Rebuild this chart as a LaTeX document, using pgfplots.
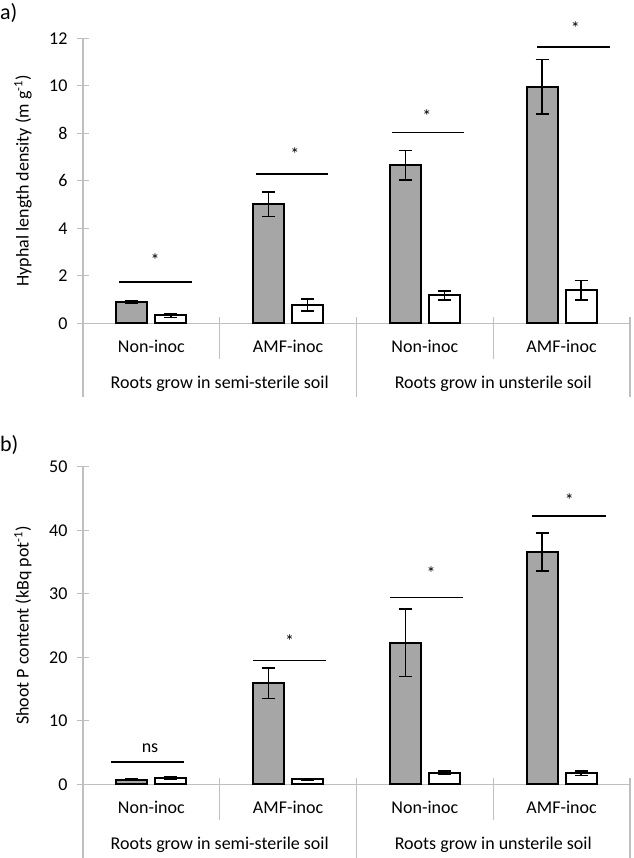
\documentclass[border=0pt]{standalone}
\usepackage{fontspec}
\setmainfont{Carlito}
\usepackage{pgfplots}
\usepackage{pgfplotstable}
\pgfplotsset{compat=1.18}

\definecolor{barg}{HTML}{A6A6A6}
\definecolor{axg}{HTML}{BFBFBF}

\pgfplotstableread{
x y e
0 0.90 0.06
1 5.02 0.52
2 6.66 0.62
3 9.96 1.14
}\hldgray
\pgfplotstableread{
x y e
0 0.33 0.08
1 0.77 0.26
2 1.18 0.19
3 1.39 0.42
}\hldwhite
\pgfplotstableread{
x y e
0 0.70 0.10
1 15.9 2.37
2 22.3 5.30
3 36.6 3.00
}\spgray
\pgfplotstableread{
x y e
0 1.00 0.20
1 0.80 0.10
2 1.83 0.30
3 1.73 0.35
}\spwhite

\tikzset{
  sig/.style={black, line width=1.8pt},
  sep/.style={axg, line width=1.3pt},
}
\pgfplotsset{
  myax/.style={
    scale only axis, width=547pt,
    xmin=-0.5, xmax=3.5, ymin=0,
    axis x line=bottom, axis y line=left,
    axis line style={-, draw=axg, line width=1.3pt},
    ytick style={draw=axg, line width=1.3pt},
    major tick length=12pt, tick align=center,
    xtick={0,1,2,3},
    xticklabels={Non-inoc,AMF-inoc,Non-inoc,AMF-inoc},
    xtick style={draw=none},
    xticklabel style={anchor=center, yshift=-11pt},
    yticklabel style={anchor=east, xshift=-6pt},
    every axis y label/.style={at={([xshift=-60pt]axis description cs:0,0.5)}, rotate=90, anchor=center},
    ybar=8pt, bar width=31pt,
    clip=false,
    font=\fontsize{18}{21}\selectfont,
    /pgf/number format/assume math mode=true,
    error bars/error bar style={line width=1.6pt, black},
    error bars/error mark options={line width=1.6pt, mark size=6.5pt, black, rotate=90},
  },
  gbar/.style={fill=barg, draw=black, line width=2pt, error bars/.cd, y dir=both, y explicit},
  wbar/.style={fill=white, draw=black, line width=2pt, error bars/.cd, y dir=both, y explicit},
}

\begin{document}
\begin{tikzpicture}
\useasboundingbox (0,0) rectangle (633pt,-858pt);
\node[anchor=base west, font=\fontsize{22}{26}\selectfont, inner sep=0pt] at (0pt,-20pt) {a)};
\node[anchor=base west, font=\fontsize{22}{26}\selectfont, inner sep=0pt] at (0pt,-451pt) {b)};

\begin{axis}[myax, at={(83pt,-323.3pt)}, anchor=south west,
  height=285pt, ymax=12, ytick={0,2,...,12},
  ylabel={Hyphal length density (m g\textsuperscript{-1})}]
\addplot[gbar] table[x=x, y=y, y error=e] {\hldgray};
\addplot[wbar] table[x=x, y=y, y error=e] {\hldwhite};
\draw[sig] (axis cs:-0.237,1.73) -- (axis cs:0.297,1.73);
\draw[sig] (axis cs:0.765,6.29) -- (axis cs:1.292,6.29);
\draw[sig] (axis cs:1.760,8.03) -- (axis cs:2.286,8.03);
\draw[sig] (axis cs:2.820,11.65) -- (axis cs:3.354,11.65);
\node at (axis cs:0.027,2.67) {*};
\node at (axis cs:1.05,7.13) {*};
\node at (axis cs:2.015,8.73) {*};
\node at (axis cs:3.10,12.44) {*};
\draw[sep] (axis cs:-0.5,0) -- ++(0pt,-74pt);
\draw[sep] (axis cs:0.5,0) ++(0pt,6pt) -- ++(0pt,-42pt);
\draw[sep] (axis cs:2.5,0) ++(0pt,6pt) -- ++(0pt,-42pt);
\draw[sep] (axis cs:1.5,0) ++(0pt,6pt) -- ++(0pt,-80pt);
\draw[sep] (axis cs:3.5,0) ++(0pt,6pt) -- ++(0pt,-80pt);
\node at (axis cs:0.5,0) [yshift=-60pt] {Roots grow in semi-sterile soil};
\node at (axis cs:2.5,0) [yshift=-60pt] {Roots grow in unsterile soil};
\end{axis}

\begin{axis}[myax, at={(83pt,-784.3pt)}, anchor=south west,
  height=317.6pt, ymax=50, ytick={0,10,...,50},
  ylabel={Shoot P content (kBq pot\textsuperscript{-1})}]
\addplot[gbar] table[x=x, y=y, y error=e] {\spgray};
\addplot[wbar] table[x=x, y=y, y error=e] {\spwhite};
\draw[sig] (axis cs:-0.295,3.46) -- (axis cs:0.239,3.46);
\draw[sig] (axis cs:0.743,19.5) -- (axis cs:1.277,19.5);
\draw[sig] (axis cs:1.745,29.4) -- (axis cs:2.279,29.4);
\draw[sig] (axis cs:2.783,42.2) -- (axis cs:3.324,42.2);
\node at (axis cs:-0.01,5.7) {ns};
\node at (axis cs:1.01,22.6) {*};
\node at (axis cs:2.045,33.2) {*};
\node at (axis cs:3.056,44.8) {*};
\draw[sep] (axis cs:-0.5,0) -- ++(0pt,-74pt);
\draw[sep] (axis cs:0.5,0) ++(0pt,6pt) -- ++(0pt,-42pt);
\draw[sep] (axis cs:2.5,0) ++(0pt,6pt) -- ++(0pt,-42pt);
\draw[sep] (axis cs:1.5,0) ++(0pt,6pt) -- ++(0pt,-80pt);
\draw[sep] (axis cs:3.5,0) ++(0pt,6pt) -- ++(0pt,-80pt);
\node at (axis cs:0.5,0) [yshift=-60pt] {Roots grow in semi-sterile soil};
\node at (axis cs:2.5,0) [yshift=-60pt] {Roots grow in unsterile soil};
\end{axis}
\end{tikzpicture}
\end{document}
